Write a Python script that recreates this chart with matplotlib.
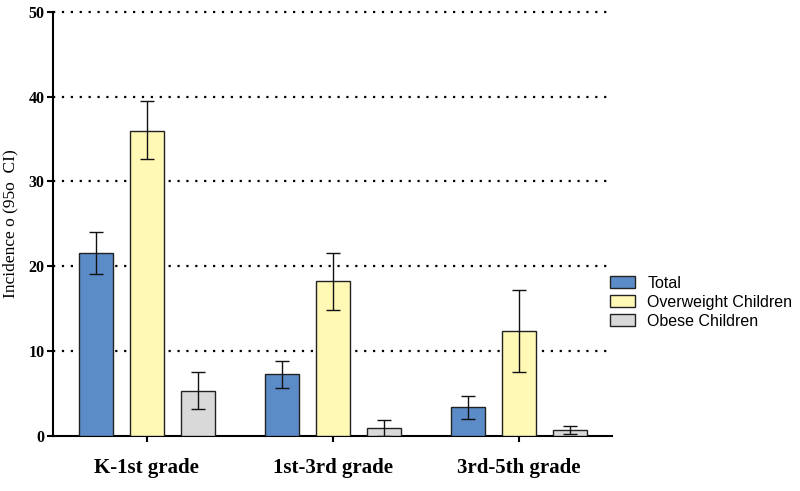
import numpy as np
import matplotlib.pyplot as plt

# datos
grupos = ['K-1st grade', '1st-3rd grade', '3rd-5th grade']
series = ['Total', 'Overweight Children', 'Obese Children']
valores = [[21.6, 7.3, 3.4],
           [36.0, 18.3, 12.4],
           [5.3, 0.9, 0.7]]
err_sup = [[24.0, 8.8, 4.7],
           [39.5, 21.6, 17.2],
           [7.5, 1.85, 1.15]]
err_inf = [[19.1, 5.6, 2.0],
           [32.6, 14.9, 7.5],
           [3.2, 0.0, 0.2]]
colores = ['#5B8CC8', '#FFF9B5', '#D9D9D9']

fig = plt.figure(figsize=(8, 4.91), dpi=100)
ax = fig.add_axes([0.066, 0.112, 0.699, 0.864])

x = np.arange(len(grupos))
ancho = 0.183
desp = 0.274
for i, s in enumerate(series):
    v = np.array(valores[i])
    yerr = [v - np.array(err_inf[i]), np.array(err_sup[i]) - v]
    ax.bar(x + (i - 1) * desp, v, ancho, color=colores[i], edgecolor='#222222',
           linewidth=1.0, label=s, zorder=3,
           yerr=yerr, capsize=5, error_kw=dict(elinewidth=1.0, capthick=1.0, ecolor='#111111'))

ax.set_ylim(0, 50)
ax.set_xlim(-0.505, 2.5)
ax.set_yticks([0, 10, 20, 30, 40, 50])
ax.set_yticklabels(['0', '10', '20', '30', '40', '50'], fontfamily='Liberation Serif',
                   fontweight='bold', fontsize=11.5)
ax.set_xticks(x)
ax.set_xticklabels(grupos, fontfamily='Liberation Serif', fontweight='bold', fontsize=15)
ax.tick_params(axis='x', length=4, width=1.5, pad=12)
ax.tick_params(axis='y', length=4, width=1.5, pad=2)

for yv in [10, 20, 30, 40, 50]:
    ax.axhline(yv, color='black', linestyle=(0, (1, 3)), linewidth=1.6, zorder=1,
               clip_on=False)

ax.spines['top'].set_visible(False)
ax.spines['right'].set_visible(False)
ax.spines['left'].set_linewidth(1.5)
ax.spines['bottom'].set_linewidth(1.5)

ax.set_ylabel('Incidence o (95o  CI)', fontfamily='Liberation Serif', fontsize=12.5,
              labelpad=7)

ax.legend(loc='center left', bbox_to_anchor=(0.97, 0.315), frameon=False,
          prop={'family': 'Liberation Sans', 'size': 11.5}, handlelength=1.6,
          handleheight=0.8, labelspacing=0.25, handletextpad=0.75)

plt.savefig('out.png')
